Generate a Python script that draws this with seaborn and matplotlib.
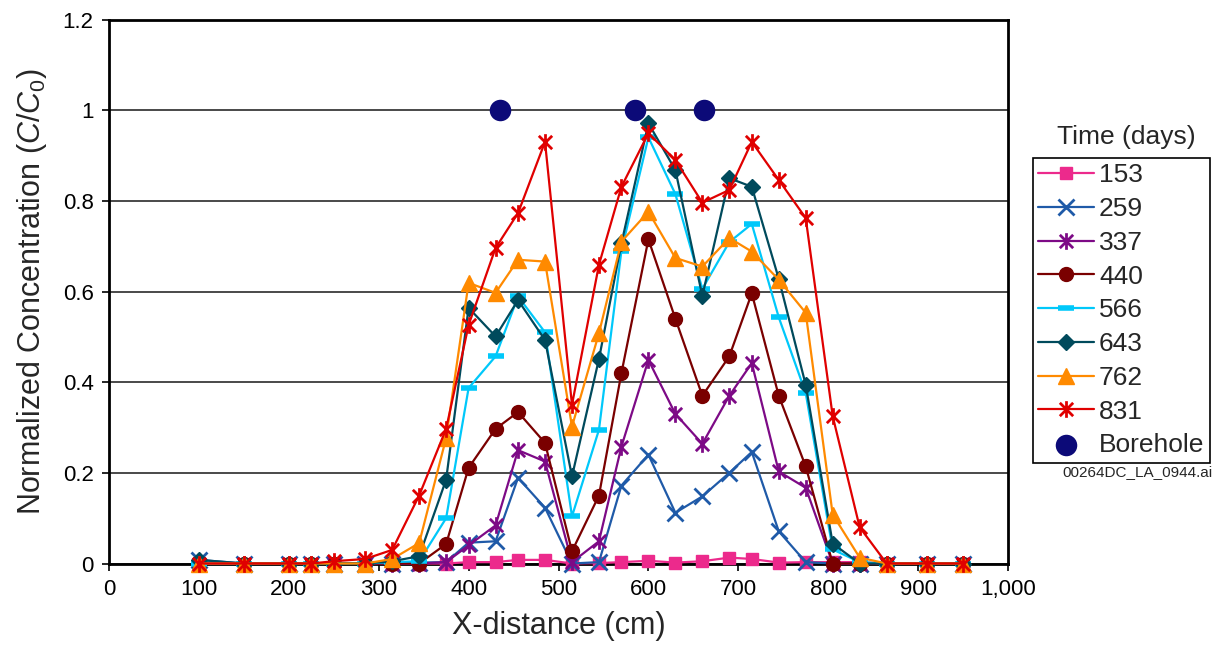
import numpy as np
import pandas as pd
import matplotlib
matplotlib.use("Agg")
import matplotlib.pyplot as plt
from matplotlib.ticker import FuncFormatter
from matplotlib.path import Path
import seaborn as sns

# ---- data ----
x_cm = [100, 150, 200, 225, 250, 285, 315, 345, 375, 400, 430, 455, 485, 515,
        545, 570, 600, 630, 660, 690, 715, 745, 775, 805, 835, 865, 910, 950]

c153 = [np.nan, np.nan, np.nan, np.nan, np.nan, 0.0, 0.0, 0.0, 0.0, 0.003, 0.003, 0.008, 0.008, 0.0,
        0.001, 0.003, 0.006, 0.002, 0.005, 0.013, 0.01, 0.002, 0.003, 0.003, 0.003, 0.0, 0.0, 0.0]
c259 = [0.008, 0, 0, 0, 0, 0, 0, 0.002, 0.003, 0.046, 0.049, 0.189, 0.123, 0.0,
        0.003, 0.172, 0.24, 0.112, 0.148, 0.2, 0.246, 0.071, 0.003, 0, 0, 0, 0, 0]
c337 = [0, 0, 0, 0, 0, 0, 0, 0, 0.003, 0.04, 0.084, 0.25, 0.225, 0.003,
        0.049, 0.258, 0.449, 0.33, 0.264, 0.37, 0.442, 0.203, 0.167, 0, 0, 0, 0, 0]
c440 = [0, 0, 0, 0, 0, 0, 0, 0, 0.043, 0.211, 0.297, 0.334, 0.266, 0.027,
        0.15, 0.42, 0.715, 0.54, 0.37, 0.457, 0.596, 0.37, 0.214, 0, 0, 0, 0, 0]
c566 = [0, 0, 0, 0, 0, 0, 0.003, 0.005, 0.10, 0.387, 0.457, 0.589, 0.51, 0.104,
        0.295, 0.69, 0.94, 0.815, 0.606, 0.709, 0.749, 0.543, 0.376, 0.031, 0.003, 0, 0, 0]
c643 = [0.008, 0, 0, 0, 0, 0, 0.005, 0.016, 0.185, 0.564, 0.501, 0.581, 0.493, 0.192,
        0.451, 0.706, 0.971, 0.868, 0.59, 0.85, 0.831, 0.628, 0.394, 0.044, 0, 0, 0, 0]
c762 = [0, 0, 0, 0, 0, 0, 0.01, 0.045, 0.277, 0.619, 0.597, 0.67, 0.666, 0.302,
        0.508, 0.71, 0.776, 0.674, 0.655, 0.718, 0.688, 0.626, 0.553, 0.108, 0.013, 0, 0, 0]
c831 = [0, 0, 0, 0, 0.005, 0.01, 0.03, 0.15, 0.297, 0.526, 0.696, 0.773, 0.93, 0.35,
        0.659, 0.831, 0.949, 0.89, 0.796, 0.824, 0.93, 0.846, 0.762, 0.325, 0.08, 0, 0, 0]

borehole_x = [435, 585, 662]
borehole_y = [1.0, 1.0, 1.0]

series_labels = ["153", "259", "337", "440", "566", "643", "762", "831"]
series_values = [c153, c259, c337, c440, c566, c643, c762, c831]

y_ticks = [0, 0.2, 0.4, 0.6, 0.8, 1.0, 1.2]
x_ticks = [0, 100, 200, 300, 400, 500, 600, 700, 800, 900, 1000]

# ---- styles ----
# Excel-style star: an X plus a vertical bar
star = Path([(-1, -1), (1, 1), (-1, 1), (1, -1), (0, -1.25), (0, 1.25)],
            [Path.MOVETO, Path.LINETO, Path.MOVETO, Path.LINETO, Path.MOVETO, Path.LINETO])
styles = {
    "153": dict(color="#EC2A8C", marker="s", ms=9, mew=1),
    "259": dict(color="#1F5AA8", marker="x", ms=11, mew=2),
    "337": dict(color="#7D0A86", marker=star, ms=12, mew=2),
    "440": dict(color="#7A0000", marker="o", ms=10, mew=1),
    "566": dict(color="#00C8FA", marker="_", ms=12, mew=4),
    "643": dict(color="#004A5C", marker="D", ms=8.5, mew=1),
    "762": dict(color="#FF8A00", marker="^", ms=11, mew=1),
    "831": dict(color="#E00000", marker=star, ms=12, mew=2),
}

sns.set_theme(style="white")
plt.rcParams["font.family"] = ["Liberation Sans", "DejaVu Sans"]
plt.rcParams["mathtext.fontset"] = "custom"
plt.rcParams["mathtext.rm"] = "Liberation Sans"
plt.rcParams["mathtext.it"] = "Liberation Sans:italic"

fig = plt.figure(figsize=(12.25, 6.6), dpi=100)
ax = fig.add_axes([109 / 1225, 1 - 563.5 / 660, (1008 - 109) / 1225, (563.5 - 19.5) / 660])

for lab, vals in zip(series_labels, series_values):
    df = pd.DataFrame({"x": x_cm, "y": vals}).dropna()
    st = styles[lab]
    sns.lineplot(data=df, x="x", y="y", ax=ax, color=st["color"], lw=1.6,
                 marker=st["marker"], markersize=st["ms"], markeredgewidth=st["mew"],
                 markeredgecolor=st["color"], markerfacecolor=st["color"],
                 label=lab, clip_on=False, zorder=3)

sns.scatterplot(x=borehole_x, y=borehole_y, ax=ax, s=240, color="#0C0A78",
                edgecolor="#0C0A78", linewidth=0, label="Borehole", zorder=5, clip_on=False)

ax.set_xlim(0, 1000)
ax.set_ylim(0, 1.2)
ax.set_yticks(y_ticks)
ax.set_yticklabels([f"{v:g}" for v in y_ticks])
ax.set_xticks(x_ticks)
ax.xaxis.set_major_formatter(FuncFormatter(lambda v, p: f"{int(v):,}"))
ax.tick_params(axis="both", labelsize=16, length=5, width=1.2, direction="out",
               colors="black", bottom=True, left=True, pad=6)
ax.grid(axis="y", color="#3a3a3a", lw=1.3)
ax.grid(axis="x", visible=False)
ax.set_axisbelow(True)
for sp in ax.spines.values():
    sp.set_color("black")
    sp.set_linewidth(2)

ax.set_xlabel("X-distance (cm)", fontsize=22, labelpad=8)
ax.set_ylabel("Normalized Concentration ($C/C_0$)", fontsize=22, labelpad=10)

handles, labels = ax.get_legend_handles_labels()
leg = ax.legend(handles, labels, loc="upper left",
                bbox_to_anchor=(1033 / 1225, 1 - 158 / 660), bbox_transform=fig.transFigure,
                fontsize=19, frameon=True, fancybox=False, framealpha=1,
                edgecolor="black", handlelength=2.1, handletextpad=0.2,
                labelspacing=0.37, borderpad=0.2, borderaxespad=0)
leg.get_frame().set_linewidth(1.2)

fig.text(1126 / 1225, 1 - 137 / 660, "Time (days)", fontsize=19, ha="center", va="center")
fig.text(1137 / 1225, 1 - 472 / 660, "00264DC_LA_0944.ai", fontsize=11, ha="center", va="center")

fig.savefig("out.png", dpi=100)
